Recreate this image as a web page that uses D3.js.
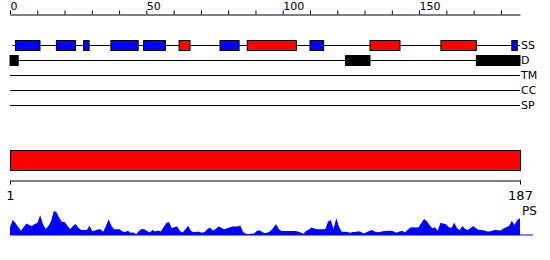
<!DOCTYPE html>
<html>
<head>
<meta charset="utf-8">
<script src="https://cdn.jsdelivr.net/npm/d3@7"></script>
<style>
  body { margin: 0; background: #fff; }
  text { font-family: "DejaVu Sans", sans-serif; fill: #000; }
</style>
</head>
<body>
<div id="chart"></div>
<script>
// sequence length and track names
var seqLength = 187;
var trackNames = ["SS", "D", "TM", "CC", "SP"];

// secondary structure elements [start, end]
var strands = [[2, 11], [17, 24], [27, 29], [37, 47], [49, 57], [77, 84], [110, 115], [184, 186]];
var helices = [[62, 66], [87, 105], [132, 143], [158, 171]];
// disorder regions
var disorder = [[0, 3], [123, 132], [171, 187]];

// top ruler ticks
var rulerTicks = d3.range(0, 181, 10);
var rulerLabels = [0, 50, 100, 150];
var bottomTicks = [1, 187];

// per-residue profile (PS)
var psValues = [
  0.32, 0.60, 0.48, 0.32, 0.18, 0.32, 0.46, 0.40, 0.36, 0.44,
  0.48, 0.79, 0.44, 0.24, 0.36, 0.56, 0.97, 0.90, 0.68, 0.52,
  0.52, 0.36, 0.24, 0.36, 0.44, 0.28, 0.20, 0.20, 0.20, 0.37,
  0.15, 0.18, 0.22, 0.23, 0.13, 0.36, 0.63, 0.36, 0.23, 0.23,
  0.23, 0.14, 0.12, 0.17, 0.09, 0.10, 0.03, 0.16, 0.24, 0.23,
  0.16, 0.10, 0.20, 0.14, 0.18, 0.14, 0.31, 0.48, 0.52, 0.27,
  0.32, 0.34, 0.16, 0.10, 0.24, 0.37, 0.16, 0.11, 0.13, 0.13,
  0.09, 0.12, 0.24, 0.30, 0.18, 0.24, 0.34, 0.30, 0.23, 0.26,
  0.30, 0.34, 0.34, 0.34, 0.38, 0.12, 0.05, 0.04, 0.05, 0.06,
  0.16, 0.19, 0.12, 0.07, 0.10, 0.16, 0.28, 0.44, 0.24, 0.16,
  0.16, 0.16, 0.16, 0.16, 0.16, 0.14, 0.10, 0.05, 0.16, 0.22,
  0.30, 0.26, 0.23, 0.23, 0.23, 0.24, 0.54, 0.60, 0.24, 0.67,
  0.32, 0.13, 0.13, 0.12, 0.09, 0.12, 0.12, 0.15, 0.12, 0.06,
  0.11, 0.16, 0.20, 0.14, 0.11, 0.12, 0.15, 0.16, 0.17, 0.17,
  0.14, 0.09, 0.14, 0.17, 0.10, 0.20, 0.30, 0.31, 0.30, 0.31,
  0.48, 0.64, 0.56, 0.40, 0.27, 0.31, 0.17, 0.49, 0.46, 0.43,
  0.32, 0.28, 0.49, 0.28, 0.19, 0.36, 0.24, 0.20, 0.28, 0.36,
  0.26, 0.20, 0.20, 0.18, 0.14, 0.14, 0.18, 0.20, 0.19, 0.18,
  0.26, 0.31, 0.36, 0.57, 0.40, 0.60, 0.67
];

var width = 550, height = 260;
var svg = d3.select("#chart").append("svg")
  .attr("width", width).attr("height", height);

var x = d3.scaleLinear().domain([0, seqLength]).range([10, 520]);
var xRes = d3.scaleLinear().domain([1, seqLength]).range([10, 520]);
var trackY = d3.scalePoint().domain(trackNames).range([45, 105]);

// top ruler
var topAxis = d3.axisTop(x)
  .tickValues(rulerTicks)
  .tickSize(4)
  .tickSizeOuter(0)
  .tickFormat(function(d) { return rulerLabels.indexOf(d) >= 0 ? d : ""; });

var gTop = svg.append("g")
  .attr("transform", "translate(0,14.5)")
  .call(topAxis);
gTop.select(".domain").attr("stroke", "#000");
gTop.selectAll(".tick line").attr("stroke", "#000");
gTop.selectAll(".tick text")
  .attr("text-anchor", "start")
  .attr("y", -4.5)
  .style("font-family", "DejaVu Sans")
  .style("font-size", "11px")
  .attr("fill", "#000");

// track lines
svg.selectAll(".track")
  .data(trackNames)
  .enter().append("line")
  .attr("class", "track")
  .attr("x1", function(d) { return d == "SS" ? x(1) : x(0); })
  .attr("x2", x(seqLength))
  .attr("y1", function(d) { return Math.round(trackY(d)) + 0.5; })
  .attr("y2", function(d) { return Math.round(trackY(d)) + 0.5; })
  .attr("stroke", "#000");

svg.selectAll(".trackLabel")
  .data(trackNames)
  .enter().append("text")
  .attr("class", "trackLabel")
  .attr("x", 521)
  .attr("y", function(d) { return trackY(d) + 4; })
  .style("font-size", "11px")
  .text(function(d) { return d; });

// secondary structure boxes
function drawBoxes(data, track, fill) {
  svg.selectAll(".box-" + track + fill.replace("#", ""))
    .data(data)
    .enter().append("rect")
    .attr("x", function(d) { return x(d[0]); })
    .attr("width", function(d) { return x(d[1]) - x(d[0]); })
    .attr("y", Math.round(trackY(track)) - 4.5)
    .attr("height", 10)
    .attr("fill", fill)
    .attr("stroke", "#000");
}
drawBoxes(strands, "SS", "#0000ff");
drawBoxes(helices, "SS", "#ff0000");
drawBoxes(disorder, "D", "#000000");

// full length bar
svg.append("rect")
  .attr("x", xRes(1) + 0.5)
  .attr("y", 150.5)
  .attr("width", xRes(seqLength) - xRes(1))
  .attr("height", 20)
  .attr("fill", "#ff0000")
  .attr("stroke", "#000");

var botAxis = d3.axisBottom(xRes)
  .tickValues(bottomTicks)
  .tickSize(4)
  .tickSizeOuter(0);
var gBot = svg.append("g")
  .attr("transform", "translate(0,180.5)")
  .call(botAxis);
gBot.select(".domain").attr("stroke", "#000");
gBot.selectAll(".tick line").attr("stroke", "#000");
gBot.selectAll(".tick text")
  .attr("y", 10)
  .style("font-family", "DejaVu Sans")
  .style("font-size", "13px")
  .attr("fill", "#000");

// PS profile
var yPS = d3.scaleLinear().domain([0, 1]).range([235, 210]);
var area = d3.area()
  .x(function(d, i) { return xRes(i + 1); })
  .y0(yPS(0))
  .y1(function(d) { return yPS(d); })
  .curve(d3.curveLinear);

svg.append("path")
  .datum(psValues)
  .attr("d", area)
  .attr("fill", "#0000ff");

svg.append("line")
  .attr("x1", xRes(1)).attr("x2", 533)
  .attr("y1", yPS(0)).attr("y2", yPS(0))
  .attr("stroke", "#0000ff");

svg.append("text")
  .attr("x", 522)
  .attr("y", 215)
  .style("font-size", "12px")
  .text("PS");
</script>
</body>
</html>
